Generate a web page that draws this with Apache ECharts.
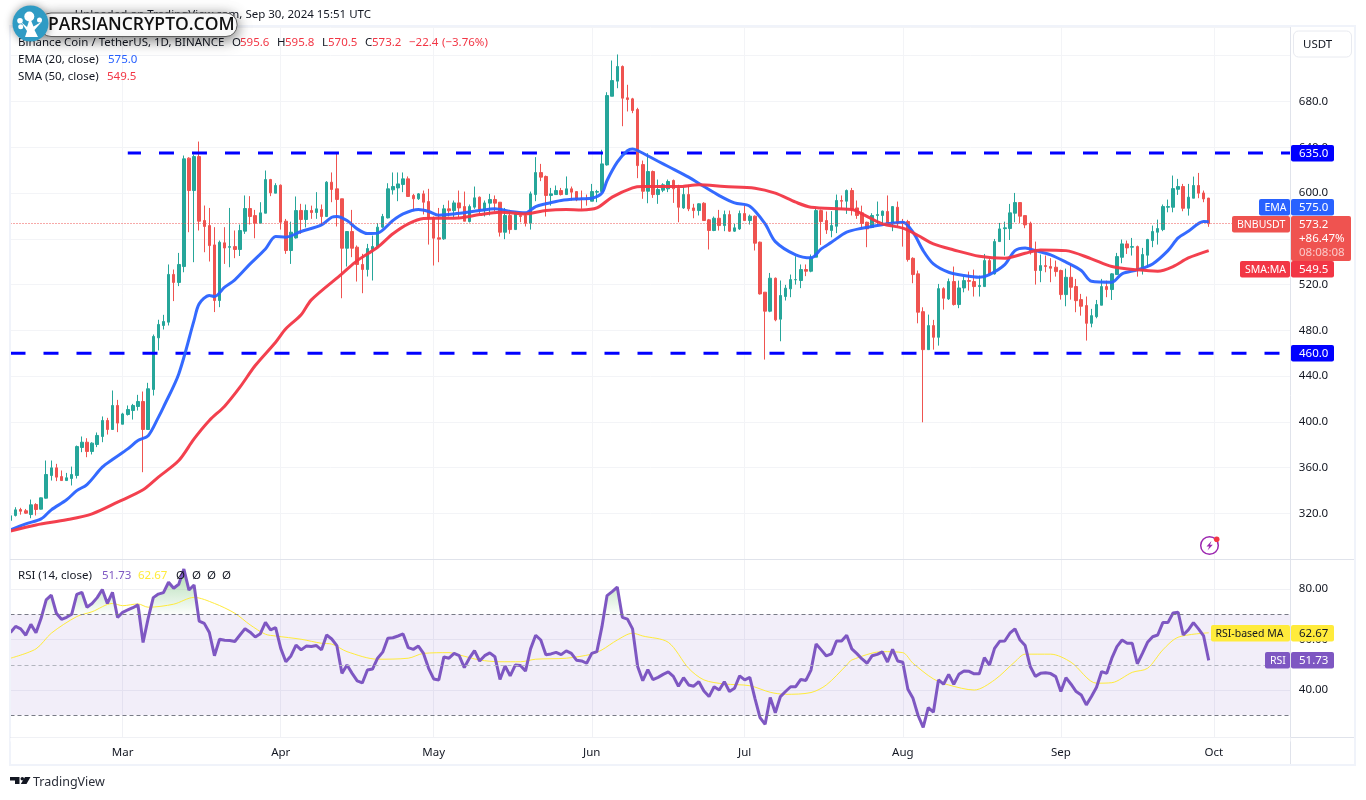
<!DOCTYPE html>
<html>
<head>
<meta charset="utf-8">
<title>BNBUSDT</title>
<style>
  html, body { margin: 0; padding: 0; background: #fff; }
  #main { width: 1366px; height: 800px; }
</style>
<script src="https://cdn.jsdelivr.net/npm/echarts@6/dist/echarts.min.js"></script>
</head>
<body>
<div id="main"></div>
<script>
// daily candles from 2024-02-08, [open, high, low, close]
var candles = [
  [314,320,309,318],[318.3,325.5,317.4,323.2],[323.5,325,319,322],[322.4,324,319.7,320.3],[319.1,332.2,315.9,327.6],
  [327.9,329,318.3,323.5],[323.8,334,323.5,333.7],[333.4,366.3,333,354.1],[353.2,366.3,348.8,359.9],[359.9,363.4,348.3,351.8],
  [352.3,357.6,348.8,348.8],[348.8,355.5,348.8,351.2],[350.6,361,344.5,354.1],[353.2,379.4,350.6,378.5],[377.7,387.3,373.6,382.3],
  [382.3,385.8,369.2,374.2],[374.2,382.3,371.6,381.5],[380.3,390.8,378,388.2],[387.3,404.8,382.3,401.3],[401.3,403.6,389,393.4],
  [393.4,427.5,393,414.4],[414.4,419.3,391.1,399],[398,408,398,407],[406.5,414.4,405.6,410.9],[410,415.8,402.1,414.4],
  [413.5,423.7,410,417.9],[417.9,426.6,356.1,393.4],[393.4,434.2,393,429],[428.4,476.4,423.1,474.7],[473.5,489.3,462.5,485.2],
  [484.3,493.6,480.8,487.8],[487.2,537.6,484.3,528.9],[528.9,533.2,505.6,521.9],[521.9,547.7,518.7,537.6],[535.8,632.8,530.8,629.9],
  [630.5,631.3,565.8,602.2],[602.2,633.7,539.6,631.9],[631.9,645,567.3,575.4],[576,589.1,548.3,570.8],[571.6,587,540.2,554.1],
  [554.7,570.2,496,506.1],[506.1,558.5,500.3,557],[556.5,570.2,538.1,552],[552.6,587,535.2,553.2],[553.2,567.3,543.1,550.7],
  [550.7,572.5,545,567.3],[566.7,597.9,564.3,586.5],[586.5,597.3,572.5,579.5],[580.3,585.3,560.5,573.7],[573.7,592,573.7,582.7],
  [582.4,619.7,582.4,611.8],[611.8,612.4,597.3,600.2],[599.9,608.6,599.9,606.6],[606.9,607.5,568.1,574.5],[575.4,577.4,546.9,549.8],
  [549.8,575,538.1,565.8],[560.8,597,560.2,584.7],[584.8,590.6,564.4,576.9],[576.9,590,570,584.8],[584.8,589,577.5,583],
  [583,600.8,577.5,586.2],[585.6,590,571.6,579.5],[579.5,610.4,579.5,609.5],[609.5,618,592,603.1],[603.7,634.3,570.8,594.4],
  [595,595,508.1,551.8],[551.8,566.6,535.8,566.4],[566.4,585.3,544,551.8],[552.7,554.2,522.7,537.6],[537.6,546.9,512.5,533.2],
  [533.2,555.6,527.1,551.5],[550.7,562.9,523.6,553.3],[553.3,573.7,552.7,570.2],[570.2,581.8,569.6,579.5],[578.3,608.6,577.8,603.7],
  [602.8,618,598.7,605.7],[604.5,618,592.9,608],[607.5,618,600.8,612.4],[612.4,614.5,597,597],[597.9,599.3,584.7,595],
  [595,600,594,599.3],[599.3,602.2,581.3,592],[592.6,603.7,555,578],[578.3,579.5,536.7,560.6],[560.9,587,539.6,559.7],
  [560,589.7,559.1,586.2],[586.2,593.5,579.5,584.5],[584.7,593.5,579,591.4],[591.4,602.2,579,587],[588.2,601.3,575.4,575.4],
  [575.1,590,574.3,588.2],[587.7,605.7,586.2,595.8],[596.4,597,581.8,585.3],[584.7,593.5,579.5,591.4],[591.2,599.3,580.4,594.4],
  [594.4,597.9,583.9,591.2],[592,592,562,565.8],[565.8,587,559.7,580.4],[580.4,585.3,564.4,568.1],[568.1,584.2,568.1,581.8],
  [580.4,580.4,574.5,579.5],[580.4,582.4,570.8,573.7],[573.7,601.3,568.1,599.3],[598.7,631.4,592.9,617.9],[617.9,625.5,610.4,613.9],
  [614.5,615.3,579.5,597.9],[597.9,604.5,589,599.3],[598.7,606.6,598.7,602.2],[602.2,604.5,597.9,598.7],[598.7,614.5,598.7,603.7],
  [603.7,605.7,593.5,600.8],[601.3,601.3,592.9,594.1],[594.9,602.2,586.2,594.4],[594.9,598.7,589,594.4],[592.9,608,592.9,601.3],
  [600.8,602.8,592,601.3],[601.3,637.8,600.2,625.5],[624.6,688.1,624,685.2],[684.6,715.8,684.6,698.3],[697.8,721.1,691.6,710.6],
  [710.6,711.5,658.4,682.9],[683.2,694.6,671.3,681.7],[682.3,683.2,669.8,672.1],[673,674.5,613,624],[624.9,628.4,595,601.6],
  [601.6,634.8,591.1,618.8],[618.8,619.7,595.8,598.7],[598.7,611.8,590.6,603.1],[602.5,608.6,600.8,607.2],[603.7,611.8,600.8,610.1],
  [611,611.8,591.4,603.7],[604.3,607.2,574.5,587.6],[587,605.1,586.2,598.7],[598.7,607.2,584.2,586.2],[587,590.6,578,584.7],
  [584.7,591.1,580.4,590.6],[591.1,592,576,576],[576.6,577.4,550.7,567.3],[567.3,579.5,566.7,578],[578,585.3,567.3,571.6],
  [571.6,584.7,566.7,581.2],[581.2,584.7,566.1,566.7],[566.7,573.1,566.1,569.6],[568.7,584.7,567.8,582.1],[582.1,589,576,576],
  [576,581.2,572.5,579.8],[579.8,580.4,549.8,556.2],[557.1,557.6,511.3,511.9],[513.4,513.4,454.5,496.8],[496.8,530.2,495.9,525.6],
  [525.6,526.2,488,489.2],[489.8,523.6,470.5,510.5],[509.6,519.8,506.1,516.9],[516.3,528.8,509,524.4],[524.2,544.8,520,524.4],
  [523.6,537.6,516.9,533.2],[533.2,537.6,527.4,531.7],[531.7,546.3,530.8,544],[544,586.8,544,584.7],[584.7,585.6,554.7,575.1],
  [576,583.9,564.3,567.8],[567.3,584.2,561.4,571.6],[571,598.7,565,593.5],[593.5,597.9,586.2,592.9],[592.9,603.1,581.8,602.2],
  [602.2,604.5,580.4,585.3],[587,593.5,577.5,580.4],[582.7,589,569.3,573.4],[574.5,575,552.7,568.7],[570,582.4,569.6,580.4],
  [580.4,592.6,571.6,581.2],[580.4,584.7,571.6,584.2],[583.9,597.9,571.6,573.7],[573.1,588.5,566.7,588.2],[587.6,592.6,571,573.1],
  [574.5,577.4,553.2,573.4],[575.1,576.6,540.1,541.9],[543,543.9,521.2,528.8],[529.4,532.3,486.2,495.9],[496.4,500.2,399.7,463.2],
  [463.2,493.8,463.2,484.2],[484.2,489.2,463.2,474],[474,520.6,466.7,516.5],[516.5,517.7,498.2,508.1],[507.5,525.3,506.6,522.7],
  [522.7,535.8,501.7,502.6],[502.6,523.5,499.4,517.1],[517.1,527,513.3,523.5],[523.5,531.4,514.8,522.9],[522.7,533.1,509.6,518.3],
  [518.3,527.9,509.6,519.2],[518.3,546.8,518.3,541],[541,542.5,528.8,529.4],[529.4,559.9,528.8,557.6],[557.6,573.9,557.6,568.7],
  [568.9,575,545.4,569.6],[569,590.5,559,582.7],[582.4,600.1,574.5,591.7],[591.7,591.7,573.9,579.8],[580.3,580.3,569.3,572.2],
  [573.6,575,546.3,549.7],[549.7,557.6,520,532.3],[532.3,546.3,522.1,536.6],[536.6,545.4,530.8,535.8],[535.8,543.1,522.1,534.3],
  [535.2,541,527,531.4],[532.3,533.1,506.9,511.3],[511.3,534,501.1,526.4],[526.4,538.1,506.9,517.7],[518.3,525,495.9,506],
  [506.9,511.9,492.9,501.1],[501.7,509.6,471.1,486.2],[486.2,498.8,482.7,492.9],[492,506.6,490.6,502.6],[502,525,502,518.3],
  [518.3,523.5,509,515.7],[515.7,530,506.6,529.4],[528.8,547.7,528.8,544.5],[543.9,559.4,538.7,555.6],[555.6,558.5,546.8,552.1],
  [552.7,560.8,545.4,553.2],[553.2,554.1,527,533.7],[532.3,552.1,528.8,546.3],[545.7,560,535.2,559.4],[558.5,571.6,552.7,566.4],
  [565.8,576.8,555,569],[568.1,590,566.7,588.2],[587.6,594.3,583.2,588.2],[587.6,615.3,583.2,603.9],[603.3,612.4,598.4,605.7],
  [605.7,608,584.1,586.7],[586.7,608,580.3,596.4],[595.5,614.4,595.5,606.6],[606.6,617.6,595.5,599.9],[600.1,602.2,592,594.9],
  [595.6,595.8,570.5,573.2]
];

// moving averages, [day index, price]
var ema = [[0,305.7],[3,311],[6,315.3],[8,323.2],[11,332],[13,340],[15,345.3],[18,360.5],[20,367.2],[23,376.5],[25,383.8],[27,388],[29,404],[30,413],[33,442],[36,488.7],[37,503.2],[39,510.5],[40,509.6],[42,517.8],[44,524.2],[47,538.1],[50,551.2],[52,562],[54,561.5],[57,566.4],[61,572.2],[63,578.9],[64,579.5],[66,576],[68,568.7],[70,564.6],[72,565],[75,576],[77,581.8],[80,585.6],[82,583.9],[84,580.7],[87,581.8],[92,584.7],[95,586.2],[98,583.9],[101,582.7],[103,588.2],[105,590.6],[108,593.5],[112,595],[114,595.5],[116,600],[117,611],[119,627],[121,637],[122,638.6],[123,637.2],[127,627.8],[129,623.2],[133,613.9],[136,605.7],[139,597.8],[142,591.4],[145,588.5],[148,573.1],[150,557.6],[154,546],[157,543.4],[159,551.2],[161,557],[164,565.8],[167,569.3],[169,570.8],[172,573.1],[175,574.5],[177,565.8],[179,549.7],[181,538.1],[184,530.8],[187,527.9],[190,526.4],[192,528.8],[195,537.5],[197,549.7],[199,552.1],[201,549.7],[204,546],[207,539.6],[210,532.3],[212,522.9],[216,522.1],[218,529.4],[221,532.9],[224,538.1],[227,549.7],[229,560.8],[231,566.6],[234,575.1],[235,575]];
var sma = [[0,304.6],[5,310],[11,314.5],[16,319.7],[21,329.9],[26,340.7],[29,351.8],[33,366.3],[36,385.2],[39,401.3],[42,413.8],[45,430.4],[48,449.3],[52,469.7],[54,481.4],[57,493.6],[59,506.7],[65,529.4],[68,541],[72,552.7],[75,564.4],[78,573.1],[81,577.8],[84,578],[88,578.3],[92,581.2],[96,583.3],[101,581.8],[105,584.7],[109,585.6],[112,585.3],[115,587],[118,596.4],[122,604.5],[124,605.7],[131,605.7],[135,607.2],[140,605.7],[146,604.3],[150,599.9],[154,592],[157,587.6],[165,585.6],[167,581.8],[171,573.1],[175,569.3],[178,562.9],[181,555.6],[185,550.3],[190,544.8],[195,543],[199,547.4],[202,550.3],[207,549.7],[212,542.5],[216,535.8],[221,532.9],[225,531.7],[228,535.8],[231,543.3],[235,549.7]];

// RSI (14) one value a day
var rsi = [
  62.8,65.2,64.2,61.7,66,62.7,68.4,75.7,77.6,70.4,68,68.8,70,77.9,78.7,72.8,74.3,76.6,79.8,74.3,
  78.7,68.7,70.8,71.7,72.6,73.7,58.8,68.4,76.6,78,78.6,82.7,80.3,81.9,87.9,79.6,81.6,67.3,66.4,62.8,
  53.6,60.1,59.7,59.6,59.2,61.8,64.3,62.9,61,62.3,66.8,63.8,64.7,56.5,51.2,53.5,57.8,55.9,57.4,57.2,
  57.6,55.9,61.8,60.2,57.6,46.6,49.9,46.6,43.6,42.8,47.9,48.3,52.6,55,60.5,60.7,61.4,62.2,56.8,56.1,
  57.4,54.5,48.6,44.4,44,53.1,52.6,54.5,53.6,48.9,52.6,55.6,51.5,53.6,54.7,53.2,44.2,49.5,45.6,49.9,
  49.7,47.5,56.3,61.7,59.8,54,54.3,54.9,54,55.5,54.5,51.8,51.5,50.6,54.5,55.2,65.1,77.4,79,80.8,
  68.8,68.1,64.2,49.3,43.7,48.1,44.1,45,46.2,47.2,45.4,41.5,44.9,42,41.5,43.3,39.6,37.4,41.3,40,
  43.3,39.4,40.7,45.6,44,45,36.7,29.1,26.4,37,31,37.4,39.4,41.3,41.3,44.2,43.8,47.9,58.2,55.9,
  53.5,54.3,59.4,59.4,61.7,56.3,54.4,52.3,50.6,53.6,54.1,55.1,51.1,56.1,51.5,51,40.3,36.7,29.9,25.2,
  33,31.2,44,42.3,46.2,42.3,46.2,47.5,47.4,46.4,46.4,52.8,49.9,56.5,59.3,59.4,62.5,64.2,59.8,57.6,
  49.3,45.4,46.6,46.8,46.5,45.3,39.4,44.9,42.3,39.4,38,34.1,37.4,41.1,47.3,46.6,52.6,57.2,59.8,58.5,
  58.5,50.4,54.5,58.9,61.1,61.8,66.7,66.7,70.5,70.8,61.8,63.8,66.7,64.2,61.4,51.73
];
var rsiMa = [[0,52.6],[5,56.3],[8,62.5],[13,69.1],[16,71],[20,74.3],[22,73.4],[25,74.1],[27,72.8],[32,74],[36,76.7],[40,74.3],[44,70.4],[47,65.8],[50,62.1],[52,61.4],[57,60.1],[61,58.5],[63,58.2],[66,55.2],[72,52.2],[78,52.6],[81,54.5],[86,54.8],[88,53.9],[92,51.9],[96,51.2],[100,51.2],[103,52.2],[109,52.6],[114,54.2],[116,55.9],[119,59.8],[122,62.5],[124,61.4],[129,58.9],[133,48.6],[136,44],[140,42.4],[145,41.7],[149,39.1],[152,38.3],[157,39],[160,42],[164,49.9],[165,51.9],[171,55.2],[175,54.8],[177,50.6],[181,44.4],[184,42],[189,40],[193,44],[197,51.2],[199,54.2],[204,54.2],[208,51],[213,42.7],[216,42.9],[220,47],[223,48.6],[226,55.9],[229,60.9],[235,62.67]];

// the date axis runs on past the last candle up to mid october
var days = [];
var monthNames = ['Jan','Feb','Mar','Apr','May','Jun','Jul','Aug','Sep','Oct','Nov','Dec'];
for (var d = 0; d < 252; d++) {
  var t = new Date(Date.UTC(2024, 1, 8 + d));
  days.push(t.toISOString().slice(0, 10));
}
function isMonthStart(index, value) { return value.slice(8) === '01'; }

// echarts wants open, close, low, high
var ohlc = candles.map(function (c) { return [c[0], c[3], c[2], c[1]]; });
// overbought shading only reaches down to the 70 line
var rsiOver = rsi.map(function (v) { return v > 70 ? v : 70; });

var UI_FONT = '"Noto Sans", sans-serif';
var font = function (size, weight) { return (weight || 'normal') + ' ' + size + 'px ' + UI_FONT; };

function txt(x, y, text, fill, opt) {
  opt = opt || {};
  return {
    type: 'text', z: opt.z || 100, silent: true,
    style: { x: x, y: y + 1, text: text, fill: fill || '#131722', font: opt.font || font(11.5), align: opt.align || 'left', verticalAlign: 'middle' }
  };
}
// text inside the coloured price tags, capitals need to be a bit smaller
function tag(x, y, text, fill) { return txt(x, y, text, fill, { font: font(10.5) }); }
function box(x, y, w, h, fill, r) {
  return { type: 'rect', z: 90, silent: true, shape: { x: x, y: y, width: w, height: h, r: r === undefined ? 2 : r }, style: { fill: fill } };
}
function poly(points, fill, z) {
  return { type: 'polygon', z: z || 100, silent: true, shape: { points: points }, style: { fill: fill } };
}
function hline(x1, y1, x2, y2, color, width) {
  return { type: 'line', z: 80, silent: true, shape: { x1: x1, y1: y1, x2: x2, y2: y2 }, style: { stroke: color, lineWidth: width || 1 } };
}

var overlay = [
  // frame and pane separators
  { type: 'rect', z: 70, silent: true, shape: { x: 10, y: 26, width: 1345, height: 739 }, style: { fill: 'none', stroke: '#f0f3fa', lineWidth: 2 } },
  box(10.5, 737.5, 1280, 4, '#fff', 0),
  hline(10, 559.5, 1354, 559.5, '#e0e3eb'),
  hline(10, 737.5, 1354, 737.5, '#e0e3eb'),
  hline(1290.5, 27, 1290.5, 764, '#e0e3eb'),

  // top lines
  txt(371, 14, 'Uploaded on TradingView.com, Sep 30, 2024 15:51 UTC', '#131722', { align: 'right' }),
  txt(18, 41.5, 'Binance Coin / TetherUS, 1D, BINANCE'),
  txt(232, 41.5, 'O'), txt(240, 41.5, '595.6', '#F23645'),
  txt(277, 41.5, 'H'), txt(285, 41.5, '595.8', '#F23645'),
  txt(322, 41.5, 'L'), txt(328, 41.5, '570.5', '#F23645'),
  txt(365, 41.5, 'C'), txt(372, 41.5, '573.2', '#F23645'),
  txt(409, 41.5, '−22.4', '#F23645'), txt(442, 41.5, '(−3.76%)', '#F23645'),
  txt(18, 58.5, 'EMA (20, close)'), txt(108, 58.5, '575.0', '#2962FF'),
  txt(18, 75.5, 'SMA (50, close)'), txt(107, 75.5, '549.5', '#F23645'),

  // RSI legend
  txt(18, 574.5, 'RSI (14, close)'), txt(102, 574.5, '51.73', '#7E57C2'), txt(138, 574.5, '62.67', '#FFEB3B'),
  txt(176, 574.5, 'Ø'), txt(192, 574.5, 'Ø'), txt(207, 574.5, 'Ø'), txt(222, 574.5, 'Ø'),

  // USDT button
  { type: 'rect', z: 90, silent: true, shape: { x: 1293.5, y: 31, width: 58, height: 26, r: 5 }, style: { fill: '#fff', stroke: '#e8eaf0', lineWidth: 1 } },
  txt(1303, 44, 'USDT'),

  // price labels on the right scale
  box(1291, 145, 43, 16.5, '#0000FF'), txt(1299, 153, '635.0', '#fff'),
  box(1291, 345, 43, 16.5, '#0000FF'), txt(1299, 353, '460.0', '#fff'),
  box(1259, 199, 31, 16.5, '#2962FF'), tag(1264.5, 207, 'EMA', '#fff'),
  box(1291, 199, 43, 16.5, '#2962FF'), txt(1299, 207, '575.0', '#fff'),
  box(1232, 216, 58, 16.5, '#EF5350'), tag(1237, 224, 'BNBUSDT', '#fff'),
  box(1291, 216, 60, 45, '#EF5350'), txt(1299, 224, '573.2', '#fff'),
  txt(1299, 238, '+86.47%', '#fff'), txt(1299, 252, '08:08:08', '#fbc9c8'),
  box(1240, 261, 50, 16.5, '#F23645'), tag(1245, 269, 'SMA:MA', '#fff'),
  box(1291, 261, 43, 16.5, '#F23645'), txt(1299, 269, '549.5', '#fff'),
  box(1211, 625, 79, 16.5, '#FFEB3B'), tag(1215.5, 633, 'RSI-based MA', '#131722'),
  box(1291, 625, 43, 16.5, '#FFEB3B'), txt(1299, 633, '62.67', '#131722'),
  box(1265, 652, 25, 16.5, '#7E57C2'), tag(1270, 660, 'RSI', '#fff'),
  box(1291, 652, 43, 16.5, '#7E57C2'), txt(1299, 660, '51.73', '#fff'),

  // lightning badge
  { type: 'circle', z: 90, silent: true, shape: { cx: 1209.5, cy: 545.5, r: 8.8 }, style: { fill: '#fff', stroke: '#9C27B0', lineWidth: 1.5 } },
  poly([[1211.5, 541], [1206.5, 546.5], [1209.3, 546.5], [1207.5, 550.5], [1212.8, 544.8], [1210, 544.8]], '#9C27B0', 91),
  { type: 'circle', z: 92, silent: true, shape: { cx: 1216.7, cy: 539.3, r: 2.8 }, style: { fill: '#F23645' } },

  // TradingView mark
  poly([[10, 777], [19.5, 777], [19.5, 784], [15, 784], [15, 780.5], [10, 780.5]], '#131722'),
  { type: 'circle', z: 100, silent: true, shape: { cx: 22.3, cy: 778.7, r: 1.8 }, style: { fill: '#131722' } },
  poly([[25, 777], [30.5, 777], [26.5, 784], [20.8, 784]], '#131722'),
  txt(33, 781.5, 'TradingView', '#2a2e39', { font: font(12.5) }),

  // watermark badge
  { type: 'rect', z: 110, silent: true, shape: { x: 40, y: 13, width: 197, height: 23.5, r: 11 },
    style: { fill: '#fff', stroke: '#5d5d5d', lineWidth: 1, shadowBlur: 14, shadowOffsetY: 3, shadowColor: 'rgba(0,0,0,0.55)' } },
  txt(48, 24.5, 'PARSIANCRYPTO.COM', '#111', { z: 112, font: '600 17.5px "Open Sans", sans-serif' }),
  { type: 'circle', z: 113, silent: true, shape: { cx: 30.5, cy: 23.5, r: 18 },
    style: { fill: '#2F9BC4', shadowBlur: 8, shadowColor: 'rgba(0,0,0,0.4)' } },
  poly([[25, 37], [38, 37], [34.5, 30], [42, 21.5], [33.5, 26.5], [30, 18], [27, 27], [21, 22], [27, 31]], '#fff', 114),
  { type: 'circle', z: 114, silent: true, shape: { cx: 29.3, cy: 16.5, r: 5 }, style: { fill: '#fff' } },
  { type: 'circle', z: 114, silent: true, shape: { cx: 20, cy: 20.7, r: 2.8 }, style: { fill: '#fff' } },
  { type: 'circle', z: 114, silent: true, shape: { cx: 39.5, cy: 20, r: 2.5 }, style: { fill: '#fff' } },
  { type: 'circle', z: 114, silent: true, shape: { cx: 20.7, cy: 26.7, r: 2.5 }, style: { fill: '#fff' } }
];

var chart = echarts.init(document.getElementById('main'), null, { renderer: 'canvas' });
var option = {
  animation: false,
  backgroundColor: '#fff',
  textStyle: { fontFamily: UI_FONT },
  graphic: { elements: overlay },
  grid: [
    { left: 10.5, top: 27.5, width: 1279.8, height: 531.8 },
    { left: 10.5, top: 559.5, width: 1279.8, height: 181 }
  ],
  xAxis: [
    {
      gridIndex: 0, type: 'category', data: days, boundaryGap: false,
      axisLine: { show: false }, axisTick: { show: false }, axisLabel: { show: false },
      splitLine: { show: true, interval: isMonthStart, lineStyle: { color: '#f3f4f7' } }
    },
    {
      gridIndex: 1, type: 'category', data: days, boundaryGap: false,
      axisLine: { show: false }, axisTick: { show: false },
      axisLabel: {
        interval: isMonthStart, margin: 6, color: '#131722', fontSize: 11.5,
        formatter: function (v) { return monthNames[parseInt(v.slice(5, 7), 10) - 1]; }
      },
      splitLine: { show: true, interval: isMonthStart, lineStyle: { color: '#f0f1f5' } }
    }
  ],
  yAxis: [
    {
      gridIndex: 0, type: 'value', position: 'right', min: 280, max: 744.66, interval: 40,
      axisLine: { show: false }, axisTick: { show: false },
      axisLabel: { color: '#131722', fontSize: 11.5, margin: 8.5, padding: [3, 0, 0, 0], showMinLabel: false, showMaxLabel: false,
        // 720 sits under the USDT button in the original
        formatter: function (v) { return v === 720 ? '' : v.toFixed(1); } },
      splitLine: { lineStyle: { color: '#f3f4f7' } }
    },
    {
      gridIndex: 1, type: 'value', position: 'right', min: 20, max: 91.7, interval: 20,
      axisLine: { show: false }, axisTick: { show: false },
      axisLabel: { color: '#131722', fontSize: 11.5, margin: 8.5, padding: [3, 0, 0, 0], showMinLabel: false, showMaxLabel: false,
        formatter: function (v) { return v.toFixed(2); } },
      splitLine: { lineStyle: { color: '#f0f1f5' } }
    }
  ],
  series: [
    {
      name: 'resistance', type: 'line', xAxisIndex: 0, yAxisIndex: 0, showSymbol: false, silent: true,
      data: [[23, 635], [251, 635]],
      lineStyle: { color: '#0000FF', width: 3, type: [15, 18], dashOffset: 1.8 }
    },
    {
      name: 'support', type: 'line', xAxisIndex: 0, yAxisIndex: 0, showSymbol: false, silent: true,
      data: [[0, 460], [251, 460]],
      lineStyle: { color: '#0000FF', width: 3, type: [15, 18] }
    },
    {
      name: 'BNBUSDT', type: 'candlestick', xAxisIndex: 0, yAxisIndex: 0, barWidth: 3, data: ohlc,
      itemStyle: { color: '#26A69A', color0: '#EF5350', borderColor: '#26A69A', borderColor0: '#EF5350', borderWidth: 1 },
      markLine: {
        silent: true, symbol: 'none', label: { show: false }, animation: false,
        data: [{ yAxis: 573.2 }],
        lineStyle: { color: '#EF5350', width: 1, type: [1, 2] }
      }
    },
    {
      name: 'EMA', type: 'line', xAxisIndex: 0, yAxisIndex: 0, showSymbol: false, smooth: 0.3, silent: true,
      data: ema, lineStyle: { color: '#2962FF', width: 3, opacity: 0.95 }
    },
    {
      name: 'SMA', type: 'line', xAxisIndex: 0, yAxisIndex: 0, showSymbol: false, smooth: 0.3, silent: true,
      data: sma, lineStyle: { color: '#F23645', width: 3, opacity: 0.95 }
    },
    {
      name: 'overbought', type: 'line', xAxisIndex: 1, yAxisIndex: 1, showSymbol: false, silent: true,
      data: rsiOver, lineStyle: { width: 0 },
      areaStyle: {
        origin: 70, opacity: 1,
        color: { type: 'linear', x: 0, y: 0, x2: 0, y2: 1, colorStops: [{ offset: 0, color: 'rgba(76,175,80,0.45)' }, { offset: 1, color: 'rgba(76,175,80,0.02)' }] }
      },
      markArea: {
        silent: true, animation: false,
        itemStyle: { color: 'rgba(126,87,194,0.1)' },
        data: [[{ yAxis: 70 }, { yAxis: 30 }]]
      },
      markLine: {
        silent: true, symbol: 'none', label: { show: false }, animation: false,
        data: [
          { yAxis: 70, lineStyle: { color: '#787B86', width: 1, type: [4, 3] } },
          { yAxis: 50, lineStyle: { color: '#b2b5be', width: 1, type: [4, 3] } },
          { yAxis: 30, lineStyle: { color: '#787B86', width: 1, type: [4, 3] } }
        ]
      }
    },
    {
      name: 'RSI-based MA', type: 'line', xAxisIndex: 1, yAxisIndex: 1, showSymbol: false, smooth: 0.3, silent: true,
      data: rsiMa, lineStyle: { color: '#FFEB3B', width: 1 }
    },
    {
      name: 'RSI', type: 'line', xAxisIndex: 1, yAxisIndex: 1, showSymbol: false, silent: true,
      data: rsi, lineStyle: { color: '#7E57C2', width: 3 }
    }
  ]
};
chart.setOption(option);
</script>
</body>
</html>
